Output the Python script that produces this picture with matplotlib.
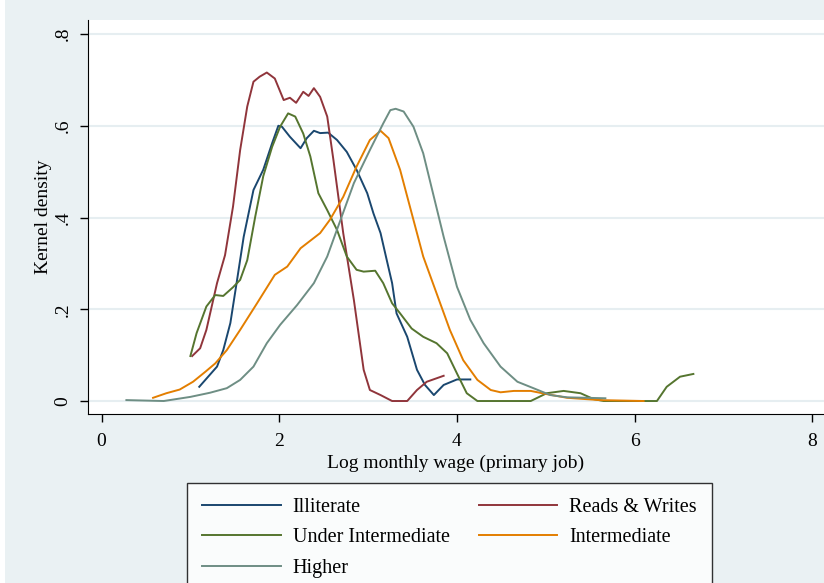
import matplotlib
matplotlib.use("Agg")
from matplotlib import pyplot as plt
from matplotlib.patches import Rectangle

# values (x = log wage, y = density)
illiterate_x = [1.10, 1.30, 1.37, 1.45, 1.52, 1.60, 1.71, 1.82, 1.92, 1.99, 2.03, 2.12, 2.24, 2.31, 2.39,
                2.46, 2.55, 2.65, 2.76, 2.87, 2.99, 3.06, 3.14, 3.21, 3.27, 3.32, 3.44, 3.55, 3.64, 3.74,
                3.85, 4.00, 4.15]
illiterate_y = [0.031, 0.075, 0.111, 0.170, 0.257, 0.358, 0.460, 0.504, 0.562, 0.600, 0.598, 0.576, 0.551,
                0.573, 0.589, 0.584, 0.585, 0.569, 0.543, 0.504, 0.453, 0.409, 0.366, 0.307, 0.257, 0.191,
                0.140, 0.068, 0.035, 0.013, 0.035, 0.047, 0.047]

reads_x = [1.02, 1.11, 1.18, 1.30, 1.39, 1.48, 1.56, 1.64, 1.71, 1.78, 1.86, 1.95, 2.05, 2.12, 2.19, 2.27,
           2.33, 2.39, 2.46, 2.54, 2.61, 2.72, 2.84, 2.95, 3.02, 3.14, 3.27, 3.44, 3.55, 3.66, 3.85]
reads_y = [0.098, 0.115, 0.155, 0.257, 0.318, 0.424, 0.547, 0.642, 0.696, 0.707, 0.716, 0.703, 0.656, 0.661,
           0.650, 0.674, 0.665, 0.682, 0.663, 0.620, 0.525, 0.366, 0.220, 0.068, 0.024, 0.013, 0.0, 0.0,
           0.024, 0.042, 0.055]

under_x = [1.00, 1.07, 1.18, 1.28, 1.37, 1.48, 1.56, 1.64, 1.73, 1.82, 1.92, 2.01, 2.10, 2.18, 2.27, 2.35,
           2.44, 2.54, 2.65, 2.76, 2.87, 2.95, 3.08, 3.17, 3.27, 3.36, 3.49, 3.62, 3.77, 3.89, 4.00, 4.11,
           4.23, 4.83, 5.01, 5.20, 5.39, 5.54, 5.65, 6.25, 6.36, 6.51, 6.66]
under_y = [0.098, 0.148, 0.206, 0.231, 0.229, 0.248, 0.264, 0.307, 0.402, 0.490, 0.554, 0.598, 0.627, 0.620,
           0.583, 0.533, 0.453, 0.416, 0.373, 0.315, 0.286, 0.282, 0.284, 0.257, 0.213, 0.191, 0.158, 0.140,
           0.126, 0.104, 0.060, 0.017, 0.0, 0.0, 0.017, 0.022, 0.017, 0.004, 0.0, 0.0, 0.031, 0.053, 0.059]

inter_x = [0.58, 0.73, 0.88, 1.03, 1.17, 1.28, 1.41, 1.56, 1.75, 1.95, 2.09, 2.24, 2.46, 2.57, 2.72, 2.87,
           3.02, 3.14, 3.23, 3.36, 3.47, 3.62, 3.77, 3.92, 4.07, 4.23, 4.38, 4.49, 4.64, 4.83, 5.01, 5.24,
           5.61, 6.10]
inter_y = [0.007, 0.017, 0.025, 0.042, 0.064, 0.082, 0.111, 0.155, 0.213, 0.275, 0.293, 0.333, 0.366, 0.395,
           0.445, 0.511, 0.569, 0.589, 0.573, 0.504, 0.424, 0.315, 0.235, 0.155, 0.089, 0.046, 0.024, 0.019,
           0.022, 0.022, 0.015, 0.007, 0.002, 0.0]

higher_x = [0.28, 0.70, 1.00, 1.22, 1.41, 1.56, 1.71, 1.86, 2.01, 2.20, 2.39, 2.54, 2.69, 2.84, 3.02, 3.17,
            3.25, 3.31, 3.40, 3.51, 3.62, 3.74, 3.85, 4.00, 4.15, 4.30, 4.49, 4.68, 4.86, 5.05, 5.24, 5.46,
            5.67]
higher_y = [0.002, 0.0, 0.009, 0.018, 0.028, 0.046, 0.075, 0.126, 0.166, 0.209, 0.257, 0.315, 0.395, 0.475,
            0.547, 0.605, 0.634, 0.637, 0.631, 0.598, 0.540, 0.445, 0.358, 0.249, 0.177, 0.126, 0.075, 0.042,
            0.028, 0.013, 0.008, 0.007, 0.006]

y_ticks = [0, 0.2, 0.4, 0.6, 0.8]
y_labels = ["0", ".2", ".4", ".6", ".8"]
x_ticks = [0, 2, 4, 6, 8]

bg = "#eaf1f3"
plt.rcParams["font.family"] = ["Liberation Serif", "DejaVu Serif"]

fig = plt.figure(figsize=(8.24, 5.83), dpi=100, facecolor=bg)
fig.patches.append(Rectangle((0, 0), 5 / 824, 1, transform=fig.transFigure, facecolor="white",
                             edgecolor="none", zorder=0))
ax = fig.add_axes([88 / 824, 1 - 414 / 583, 1 - 88 / 824, (414 - 20) / 583])
ax.set_facecolor("white")

l1, = ax.plot(illiterate_x, illiterate_y, color="#1a476f", lw=1.4, label="Illiterate")
l2, = ax.plot(reads_x, reads_y, color="#90353b", lw=1.4, label="Reads & Writes")
l3, = ax.plot(under_x, under_y, color="#55752f", lw=1.4, label="Under Intermediate")
l4, = ax.plot(inter_x, inter_y, color="#e37e00", lw=1.4, label="Intermediate")
l5, = ax.plot(higher_x, higher_y, color="#6e8e84", lw=1.4, label="Higher")

ax.set_xlim(-0.152, 8.13)
ax.set_ylim(-0.0283, 0.8305)
ax.set_xticks(x_ticks)
ax.set_xticklabels([str(t) for t in x_ticks])
ax.set_yticks(y_ticks)
ax.set_yticklabels(y_labels, rotation=90, va="center")
ax.grid(axis="y", color="#e6eef1", lw=1.5)
ax.set_axisbelow(True)
for s in ["top", "right"]:
    ax.spines[s].set_visible(False)
ax.tick_params(direction="out", length=6, width=1, labelsize=14, pad=6)
ax.tick_params(axis="x", pad=8)
ax.set_xlabel("Log monthly wage (primary job)", fontsize=14, labelpad=3)
ax.set_ylabel("Kernel density", fontsize=14, labelpad=2)

leg = fig.legend([l1, l3, l5, l2, l4],
                 ["Illiterate", "Under Intermediate", "Higher", "Reads & Writes", "Intermediate"],
                 ncol=2, loc="upper left", bbox_to_anchor=(187 / 824, 1 - 483 / 583, (712 - 187) / 824, 0),
                 mode="expand", fontsize=14.5, frameon=True, fancybox=False, edgecolor="black",
                 handlelength=3.9, handletextpad=0.6, labelspacing=0.55, borderpad=0.75, borderaxespad=0)
leg.get_frame().set_linewidth(1.0)

fig.savefig("out.png", dpi=100, facecolor=bg)
